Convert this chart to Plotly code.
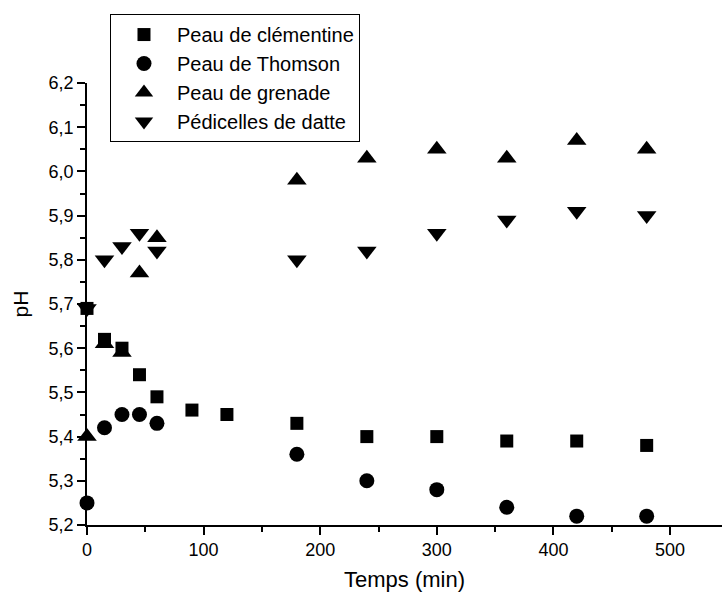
import plotly.graph_objects as go

# Data
t_clem = [0, 15, 30, 45, 60, 90, 120, 180, 240, 300, 360, 420, 480]
ph_clem = [5.69, 5.62, 5.60, 5.54, 5.49, 5.46, 5.45, 5.43, 5.40, 5.40, 5.39, 5.39, 5.38]

t_other = [0, 15, 30, 45, 60, 180, 240, 300, 360, 420, 480]
ph_thomson = [5.25, 5.42, 5.45, 5.45, 5.43, 5.36, 5.30, 5.28, 5.24, 5.22, 5.22]
ph_grenade = [5.40, 5.61, 5.59, 5.77, 5.85, 5.98, 6.03, 6.05, 6.03, 6.07, 6.05]
ph_datte = [5.69, 5.80, 5.83, 5.86, 5.82, 5.80, 5.82, 5.86, 5.89, 5.91, 5.90]

names = ["Peau de clémentine", "Peau de Thomson", "Peau de grenade", "Pédicelles de datte"]

font_family = "Arial, 'Liberation Sans', sans-serif"

fig = go.Figure()
series = [
    (t_clem, ph_clem, names[0], "square", 13),
    (t_other, ph_thomson, names[1], "circle", 15),
    (t_other, ph_grenade, names[2], "triangle-up", 17),
    (t_other, ph_datte, names[3], "triangle-down", 17),
]
for x, y, n, sym, sz in series:
    fig.add_trace(go.Scatter(
        x=x, y=y, name=n, mode="markers", cliponaxis=False,
        marker=dict(symbol=sym, size=sz, color="black", line=dict(width=0)),
    ))

axis_common = dict(
    showline=True, linecolor="black", linewidth=1.5,
    ticks="outside", ticklen=8, tickwidth=1.5, tickcolor="black",
    showgrid=False, zeroline=False,
    tickfont=dict(family=font_family, size=18, color="black"),
)

fig.update_layout(
    width=722, height=592,
    margin=dict(l=87, r=0, t=83, b=67),
    paper_bgcolor="white", plot_bgcolor="white",
    separators=", ",
    font=dict(family=font_family, color="black"),
    xaxis=dict(
        range=[0, 544.6], dtick=100, tick0=0,
        title=dict(text="Temps (min)", font=dict(size=22, family=font_family), standoff=12),
        minor=dict(dtick=50, ticks="outside", ticklen=5, tickwidth=1.5, tickcolor="black"),
        **axis_common,
    ),
    yaxis=dict(
        range=[5.2, 6.2], dtick=0.1, tick0=5.2, tickformat=".1f",
        title=dict(text="pH", font=dict(size=21, family=font_family), standoff=14),
        minor=dict(dtick=0.05, ticks="outside", ticklen=5, tickwidth=1.5, tickcolor="black"),
        **axis_common,
    ),
    legend=dict(
        x=0.0362, y=1.156, xanchor="left", yanchor="top",
        bordercolor="black", borderwidth=1, bgcolor="white",
        font=dict(size=20, family=font_family, color="black"),
        itemwidth=56, tracegroupgap=0,
    ),
    showlegend=True,
)

fig.write_html("out.html")
